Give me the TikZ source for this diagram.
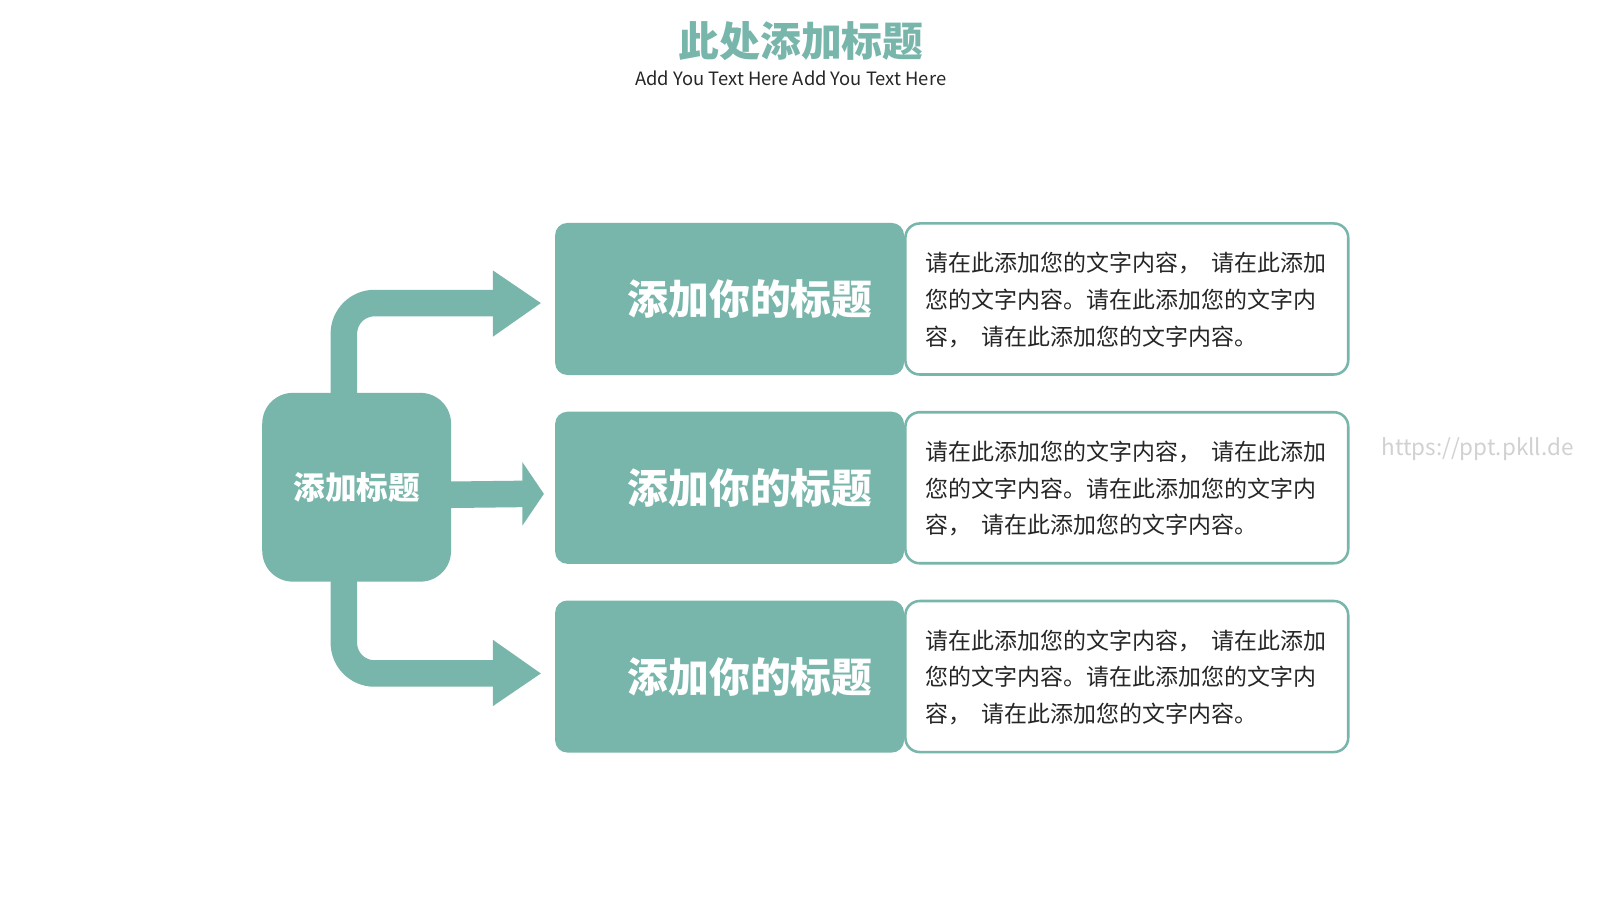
\documentclass[tikz,border=0pt]{standalone}
\usepackage{fontspec}
\setmainfont{Noto Sans CJK SC}
\begin{document}
\begin{tikzpicture}[x=1pt,y=-1pt,
  tealc/.style={fill=teal0,draw=none},
  hbox/.style={tealc,rounded corners=12pt,minimum width=342pt,minimum height=149pt,text=white,font=\fontsize{40}{40}\selectfont\bfseries,inner sep=0pt},
  tbox/.style={draw=teal0,line width=2.5pt,fill=white,rounded corners=14pt,minimum width=434pt,minimum height=148pt,anchor=west,inner sep=0pt},
  body/.style={anchor=north west,font=\fontsize{22.5}{36}\selectfont,align=left,inner sep=0pt,text=black!85},
  shaft/.style={draw=teal0,line width=26pt,rounded corners=30pt},
  head/.style={fill=teal0}]
\definecolor{teal0}{HTML}{78B6AC}
\useasboundingbox (0,0) rectangle (1568,882);
\fill[white] (0,0) rectangle (1568,882);
\node[font=\fontsize{40}{40}\selectfont\bfseries,text=teal0] (title) at (785,40) {此处添加标题};
\node[font=\fontsize{18}{18}\selectfont,text=black!85] (sub) at (775,77) {Add You Text Here Add You Text Here};
% arrows
\draw[shaft] (337,400) |- (490,297);
\fill[head] (483,265) -- (530,297) -- (483,330) -- cycle;
\draw[shaft] (430,485) -- (515,484);
\fill[head] (512,453) -- (533,484) -- (512,515) -- cycle;
\draw[shaft] (337,560) |- (490,660);
\fill[head] (483,627) -- (530,660) -- (483,692) -- cycle;
\node[tealc,rounded corners=30pt,minimum width=185pt,minimum height=185pt,text=white,font=\fontsize{31}{31}\selectfont\bfseries] (c) at (349.5,477.5) {添加标题};
\foreach \y/\n in {293/a,478/b,663/d}{
  \node[tbox] (t\n) at (886,\y) {};
  \node[hbox] (h\n) at (715,\y) {\hspace*{40pt}添加你的标题};
  \node[body] at (907,\y-46) {请在此添加您的文字内容，\ \ 请在此添加\\您的文字内容。请在此添加您的文字内\\容，\ \ 请在此添加您的文字内容。};
}
\node[font=\fontsize{22}{22}\selectfont,text=black!18] (wm) at (1448,440) {https://ppt.pkll.de};
\end{tikzpicture}
\end{document}
